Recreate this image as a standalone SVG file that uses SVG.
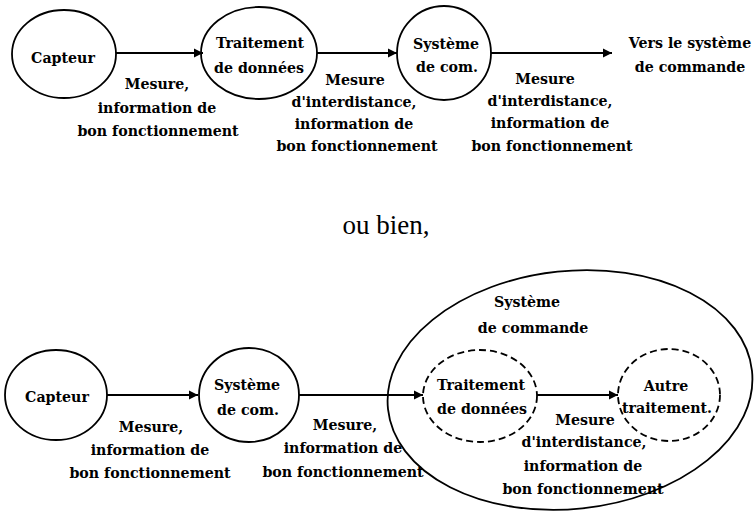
<svg xmlns="http://www.w3.org/2000/svg" width="755" height="515" viewBox="0 0 755 515">
  <style>
    .node { fill: none; stroke: #000; stroke-width: 1.8; }
    .dash { fill: none; stroke: #000; stroke-width: 1.8; stroke-dasharray: 7 4; }
    .edge { fill: none; stroke: #000; stroke-width: 1.8; }
    text { font-family: "DejaVu Serif", "Liberation Serif", serif; font-weight: bold; font-size: 14.2px; fill: #000; text-anchor: middle; }
    text.plain { font-family: "Liberation Serif", "Times New Roman", serif; font-weight: normal; font-size: 27px; }
  </style>
  <defs>
    <marker id="arrow" markerUnits="userSpaceOnUse" markerWidth="10" markerHeight="10" refX="9" refY="5" orient="auto">
      <path d="M0,0.5 L9,5 L0,9.5 z" fill="#000"/>
    </marker>
  </defs>
  <rect width="755" height="515" fill="#fff"/>

  <!-- First chain: sensor, data processing, communication system -->
  <g id="capteur-1">
    <ellipse class="node" cx="64" cy="54" rx="52" ry="44"/>
    <text x="63" y="63">Capteur</text>
  </g>
  <g id="traitement-1">
    <ellipse class="node" cx="259" cy="53" rx="58" ry="46"/>
    <text x="260" y="48">Traitement</text>
    <text x="259" y="73">de données</text>
  </g>
  <g id="systeme-com-1">
    <ellipse class="node" cx="444" cy="53" rx="47" ry="47"/>
    <text x="446" y="49">Système</text>
    <text x="447" y="72">de com.</text>
  </g>
  <g id="vers-commande">
    <text x="690" y="48">Vers le système</text>
    <text x="690" y="72">de commande</text>
  </g>

  <g id="connectors-1">
    <line class="edge" x1="116" y1="53" x2="203" y2="53" marker-end="url(#arrow)"/>
    <line class="edge" x1="317" y1="53" x2="397" y2="53" marker-end="url(#arrow)"/>
    <line class="edge" x1="491" y1="53" x2="612" y2="53" marker-end="url(#arrow)"/>
  </g>

  <g id="labels-1">
    <text x="157" y="89">Mesure,</text>
    <text x="157" y="113">information de</text>
    <text x="158" y="136">bon fonctionnement</text>

    <text x="355" y="85">Mesure</text>
    <text x="354" y="107">d'interdistance,</text>
    <text x="354" y="129">information de</text>
    <text x="357" y="151">bon fonctionnement</text>

    <text x="545" y="84">Mesure</text>
    <text x="550" y="106">d'interdistance,</text>
    <text x="550" y="128">information de</text>
    <text x="552" y="151">bon fonctionnement</text>
  </g>

  <text class="plain" x="386" y="234">ou bien,</text>

  <!-- Second chain: processing grouped inside the control system -->
  <g id="systeme-commande">
    <ellipse class="node" cx="570" cy="390" rx="183" ry="119" transform="rotate(-6 570 390)"/>
    <text x="527" y="307">Système</text>
    <text x="533" y="333">de commande</text>
  </g>
  <g id="capteur-2">
    <ellipse class="node" cx="56" cy="395" rx="51" ry="45"/>
    <text x="57" y="402">Capteur</text>
  </g>
  <g id="systeme-com-2">
    <ellipse class="node" cx="249" cy="395" rx="50" ry="47"/>
    <text x="247" y="390">Système</text>
    <text x="248" y="415">de com.</text>
  </g>
  <g id="traitement-2">
    <ellipse class="dash" cx="480" cy="396" rx="57" ry="46"/>
    <text x="481" y="390">Traitement</text>
    <text x="482" y="414">de données</text>
  </g>
  <g id="autre-traitement">
    <ellipse class="dash" cx="669" cy="395" rx="51" ry="46"/>
    <text x="666" y="391">Autre</text>
    <text x="667" y="413">traitement.</text>
  </g>

  <g id="connectors-2">
    <line class="edge" x1="107" y1="395" x2="198" y2="395" marker-end="url(#arrow)"/>
    <line class="edge" x1="299" y1="395" x2="423" y2="395" marker-end="url(#arrow)"/>
    <line class="edge" x1="537" y1="395" x2="618" y2="395" marker-end="url(#arrow)"/>
  </g>

  <g id="labels-2">
    <text x="151" y="432">Mesure,</text>
    <text x="150" y="455">information de</text>
    <text x="150" y="478">bon fonctionnement</text>

    <text x="345" y="430">Mesure,</text>
    <text x="343" y="453">information de</text>
    <text x="343" y="477">bon fonctionnement</text>

    <text x="585" y="425">Mesure</text>
    <text x="584" y="447">d'interdistance,</text>
    <text x="583" y="471">information de</text>
    <text x="583" y="494">bon fonctionnement</text>
  </g>
</svg>
